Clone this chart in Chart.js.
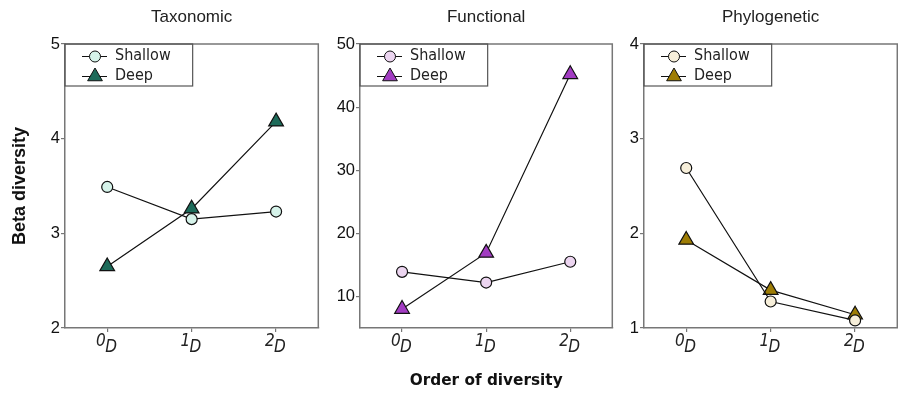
<!DOCTYPE html>
<html>
<head>
<meta charset="utf-8">
<script src="https://cdn.jsdelivr.net/npm/chart.js@4.4.1/dist/chart.umd.min.js"></script>
<style>
  html, body { margin: 0; background: #fff; overflow: hidden; }
  .panel { position: absolute; top: 0; height: 393px; }
</style>
</head>
<body>
<!-- the panels overlap a little: the x axis keeps ~10px free on the right -->
<div class="panel" style="left:0;width:328px"><canvas id="tax"></canvas></div>
<div class="panel" style="left:320px;width:302px"><canvas id="fun"></canvas></div>
<div class="panel" style="left:615px;width:292px"><canvas id="phy"></canvas></div>
<script>
// order of diversity (q = 0, 1, 2)
var orders = ['0', '1', '2'];

var taxShallow = [3.49, 3.15, 3.23];
var taxDeep = [2.65, 3.26, 4.18];
var funShallow = [13.9, 12.2, 15.5];
var funDeep = [8.0, 16.9, 45.2];
var phyShallow = [2.69, 1.28, 1.08];
var phyDeep = [1.93, 1.40, 1.14];

var taxTicks = [2, 3, 4, 5];
var funTicks = [10, 20, 30, 40, 50];
var phyTicks = [1, 2, 3, 4];

var FONT = "'DejaVu Sans Condensed', 'DejaVu Sans', sans-serif";
var ARIAL = "'Liberation Sans', Arial, sans-serif";
var AXIS = '#777';

// little "-o-" picture used as the legend symbol
function legendSymbol(shape, fill) {
    var c = document.createElement('canvas');
    c.width = 38; c.height = 18;
    var g = c.getContext('2d');
    g.strokeStyle = '#111';
    g.lineWidth = 1;
    g.beginPath(); g.moveTo(13, 9.5); g.lineTo(38, 9.5); g.stroke();
    g.fillStyle = fill;
    g.beginPath();
    if (shape === 'circle') {
        g.arc(26, 9.5, 5.5, 0, Math.PI * 2);
    } else {
        var r = 8.5;
        g.moveTo(26, 9.5 - r);
        g.lineTo(26 + r * 0.866, 9.5 + r / 2);
        g.lineTo(26 - r * 0.866, 9.5 + r / 2);
        g.closePath();
    }
    g.fill(); g.stroke();
    return c;
}

var framePlugin = {
    id: 'frame',
    afterLayout: function (chart) {
        // keep the legend inside the plot, at its top-left corner
        var lg = chart.legend, a = chart.chartArea;
        if (lg) {
            lg.top = a.top;
            lg.bottom = a.top + lg.height;
        }
    },
    afterDraw: function (chart) {
        var a = chart.chartArea, ctx = chart.ctx;
        ctx.save();
        ctx.strokeStyle = AXIS;
        ctx.lineWidth = 1.5;
        ctx.beginPath();
        ctx.moveTo(a.left, a.top);
        ctx.lineTo(a.right, a.top);
        ctx.lineTo(a.right, a.bottom);
        ctx.stroke();
        // box around the legend
        var hb = chart.legend.legendHitBoxes || [];
        if (hb.length) {
            var r = 0, b = 0;
            hb.forEach(function (h) {
                r = Math.max(r, h.left + h.width);
                b = Math.max(b, h.top + h.height);
            });
            ctx.strokeStyle = '#555';
            ctx.lineWidth = 1.2;
            ctx.strokeRect(a.left, a.top, r + 22 - a.left, b + 2 - a.top);
        }
        ctx.restore();
    }
};

function makePanel(id, title, shallow, deep, colShallow, colDeep, yMin, yMax, ticks, yWidth, yTitle, xTitle) {
    var symbols = [legendSymbol('circle', colShallow), legendSymbol('triangle', colDeep)];
    new Chart(document.getElementById(id), {
        type: 'line',
        data: {
            labels: orders.map(function (o) { return [o + '\u2002 ', '\u2002D']; }),
            datasets: [{
                label: 'Shallow',
                data: shallow,
                borderColor: '#111',
                borderWidth: 1.2,
                pointStyle: 'circle',
                pointRadius: 5.5,
                pointBackgroundColor: colShallow,
                pointBorderColor: '#111',
                pointBorderWidth: 1.2
            }, {
                label: 'Deep',
                data: deep,
                borderColor: '#111',
                borderWidth: 1.2,
                pointStyle: 'triangle',
                pointRadius: 8.5,
                pointBackgroundColor: colDeep,
                pointBorderColor: '#111',
                pointBorderWidth: 1.2
            }]
        },
        options: {
            responsive: true,
            maintainAspectRatio: false,
            animation: false,
            plugins: {
                title: {
                    display: true,
                    text: title,
                    fullSize: false,
                    color: '#222',
                    font: { family: ARIAL, size: 17, weight: 'normal' },
                    padding: { top: 7, bottom: 16.6 }
                },
                legend: {
                    position: 'chartArea',
                    align: 'start',
                    labels: {
                        usePointStyle: true,
                        pointStyleWidth: 38,
                        padding: 4,
                        color: '#222',
                        font: { family: FONT, size: 16 },
                        generateLabels: function (chart) {
                            return chart.data.datasets.map(function (ds, i) {
                                return { text: ds.label, pointStyle: symbols[i], datasetIndex: i, hidden: false, lineWidth: 0, fontColor: '#222' };
                            });
                        }
                    }
                },
                tooltip: { enabled: false }
            },
            scales: {
                x: {
                    offset: true,
                    afterFit: function (s) { s.height = 65; },
                    grid: { drawOnChartArea: false, offset: false, tickLength: 4, color: AXIS, lineWidth: 1.2 },
                    border: { display: true, color: AXIS, width: 1.5 },
                    ticks: {
                        color: '#222',
                        maxRotation: 0,
                        autoSkip: false,
                        padding: 7,
                        font: { family: FONT, size: 17, style: 'italic', lineHeight: '6px' }
                    },
                    title: {
                        display: xTitle,
                        text: 'Order of diversity',
                        color: '#111',
                        padding: 2.8,
                        font: { family: "'DejaVu Sans', sans-serif", size: 15.3, weight: 'bold' }
                    }
                },
                y: {
                    min: yMin,
                    max: yMax,
                    afterBuildTicks: function (s) { s.ticks = ticks.map(function (v) { return { value: v }; }); },
                    afterFit: function (s) { s.width = yWidth; },
                    grid: { drawOnChartArea: false, tickLength: 4, color: AXIS, lineWidth: 1.2 },
                    border: { display: true, color: AXIS, width: 1.5 },
                    ticks: { color: '#111', padding: 1, font: { family: ARIAL, size: 16.5 } },
                    title: {
                        display: yTitle,
                        text: 'Beta diversity',
                        color: '#111',
                        padding: 9.2,
                        font: { family: ARIAL, size: 18, weight: 'bold' }
                    }
                }
            }
        },
        plugins: [framePlugin]
    });
}

makePanel('tax', 'Taxonomic', taxShallow, taxDeep, '#d6f3ea', '#1d6b5a', 2, 5, taxTicks, 65, true, false);
makePanel('fun', 'Functional', funShallow, funDeep, '#ecd5f0', '#a23cc2', 5, 50, funTicks, 40, false, true);
makePanel('phy', 'Phylogenetic', phyShallow, phyDeep, '#f7efda', '#9e7d05', 1, 4, phyTicks, 29, false, false);
</script>
</body>
</html>
